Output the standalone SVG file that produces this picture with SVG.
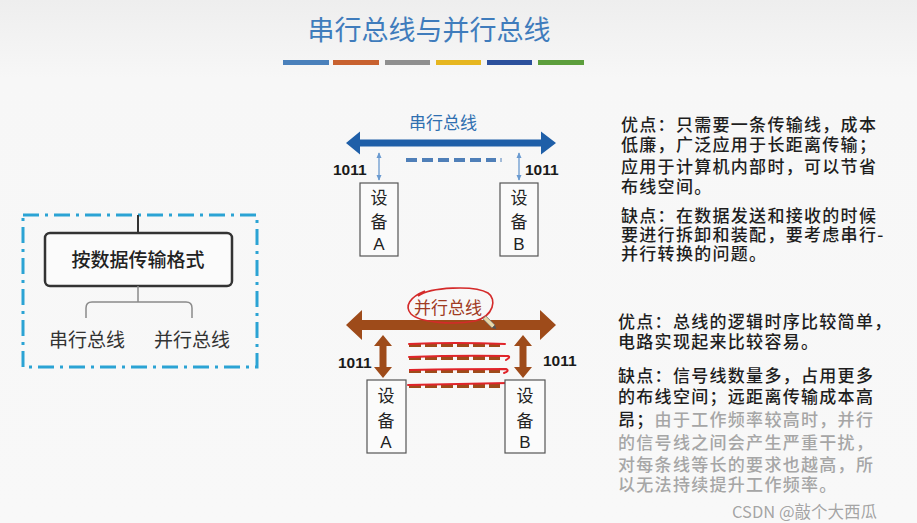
<svg xmlns="http://www.w3.org/2000/svg" width="917" height="523" viewBox="0 0 917 523">
<defs>
<linearGradient id="bg" x1="0" y1="0" x2="0" y2="1">
<stop offset="0" stop-color="#eeeeee"/>
<stop offset="0.15" stop-color="#f7f7f7"/>
<stop offset="1" stop-color="#f8f8f8"/>
</linearGradient>
<marker id="thinHead" viewBox="0 0 8 8" refX="7" refY="4" markerWidth="6" markerHeight="6" orient="auto-start-reverse" markerUnits="userSpaceOnUse">
<path d="M0,0.5 L8,4 L0,7.5 z" fill="#6a9ad0"/>
</marker>
</defs>
<style>
.cjk{font-family:"Noto Sans CJK SC","Noto Sans",sans-serif}
.lat{font-family:"Liberation Sans",Arial,sans-serif}
.body{font-size:17px;fill:#1e1e1e;font-weight:500;letter-spacing:1.3px}
.gray{fill:#a6a6a6}
.dev{fill:#fbfbfb;stroke:#555;stroke-width:1.2}
.devt{font-size:17px;fill:#222;text-anchor:middle}
.num{font-size:15.5px;fill:#1a1a1a;font-weight:bold}
</style>
<rect width="917" height="523" fill="url(#bg)"/>

<g id="title">
<text x="429" y="40" class="cjk" font-size="27" fill="#3f7cbc" text-anchor="middle">串行总线与并行总线</text>
<rect x="283" y="60" width="46" height="5" fill="#4a80bb"/>
<rect x="333" y="60" width="46" height="5" fill="#c8612f"/>
<rect x="385" y="60" width="45" height="5" fill="#8f8f8f"/>
<rect x="436" y="60" width="45" height="5" fill="#e6b620"/>
<rect x="487" y="60" width="45" height="5" fill="#2c509c"/>
<rect x="538" y="60" width="46" height="5" fill="#5c9e3c"/>
</g>

<g id="classify">
<rect x="23" y="215" width="234" height="152" fill="none" stroke="#2ba3d4" stroke-width="3" stroke-dasharray="16,6,3,6"/>
<line x1="138" y1="215" x2="138" y2="233" stroke="#333" stroke-width="2"/>
<rect x="45" y="233" width="187" height="53" rx="5" fill="#fbfbfb" stroke="#333" stroke-width="2.5"/>
<text x="138" y="267" class="cjk" font-size="19" fill="#222" text-anchor="middle" font-weight="500">按数据传输格式</text>
<path d="M138,286 V302 M86,318 V308 Q86,302 92,302 H186 Q192,302 192,308 V318" fill="none" stroke="#8a8a8a" stroke-width="1.5"/>
<text x="87" y="347" class="cjk" font-size="19" fill="#333" text-anchor="middle">串行总线</text>
<text x="192" y="347" class="cjk" font-size="19" fill="#333" text-anchor="middle">并行总线</text>
</g>

<g id="connectors">
<polygon points="346,143 360,131.5 360,139.5 541,139.5 541,131.5 556,143 541,154.5 541,146.5 360,146.5 360,154.5" fill="#1f5fa8"/>
<line x1="379" y1="153" x2="379" y2="180" stroke="#6a9ad0" stroke-width="1.3" marker-start="url(#thinHead)" marker-end="url(#thinHead)"/>
<line x1="519" y1="153" x2="519" y2="180" stroke="#6a9ad0" stroke-width="1.3" marker-start="url(#thinHead)" marker-end="url(#thinHead)"/>
<line x1="406" y1="160" x2="496" y2="160" stroke="#4f7fb8" stroke-width="4" stroke-dasharray="11,5"/>
<line x1="501" y1="158" x2="501" y2="162" stroke="#4f7fb8" stroke-width="1"/>
<polygon points="346,325 362,310 362,320 540,320 540,310 556,325 540,340 540,330 362,330 362,340" fill="#9e4b1a"/>
<polygon points="383,335 392,346 386.5,346 386.5,367 392,367 383,378 374,367 379.5,367 379.5,346 374,346" fill="#9e4b1a"/>
<polygon points="523,335 532,346 526.5,346 526.5,367 532,367 523,378 514,367 519.5,367 519.5,346 514,346" fill="#9e4b1a"/>
<g stroke="#9e4b1a" stroke-width="4" stroke-dasharray="12,4">
<line x1="409" y1="345" x2="500" y2="345"/>
<line x1="409" y1="358" x2="500" y2="358"/>
<line x1="409" y1="371" x2="500" y2="371"/>
<line x1="409" y1="386" x2="500" y2="386"/>
</g>
<g stroke="#e0242a" stroke-width="2" fill="none" stroke-linecap="round">
<path d="M409,344 Q455,342 505,344"/>
<path d="M409,357 Q460,355 508,356 Q511,357 506,360"/>
<path d="M410,370 Q460,369 506,369 Q510,371 504,373"/>
<path d="M408,385 Q460,384 508,383 Q512,383 506,388"/>
</g>
<path d="M418,296 C430,287 475,285 488,293 C497,299 494,316 475,321 C455,325 420,323 411,314 C404,306 410,297 425,291" fill="none" stroke="#d42a2a" stroke-width="1.6"/>
<g transform="translate(490,323) rotate(-45)">
<rect x="-2" y="-8" width="4" height="13" fill="#e8d9a8" stroke="#777" stroke-width="0.8"/>
<path d="M-2,5 L0,9 L2,5 z" fill="#555"/>
</g>
</g>

<g id="serial-label">
<text x="443" y="129" class="cjk" font-size="17" fill="#2f6fb0" text-anchor="middle">串行总线</text>
</g>
<g id="parallel-label">
<text x="448" y="314" class="cjk" font-size="17" fill="#a03a22" text-anchor="middle">并行总线</text>
</g>

<g id="serial-nums">
<text x="333" y="175" class="lat num">1011</text>
<text x="525" y="175" class="lat num">1011</text>
</g>
<g id="serial-devA">
<rect x="360" y="183" width="38" height="73" class="dev"/>
<text x="379" y="204" class="cjk devt">设</text>
<text x="379" y="228" class="cjk devt">备</text>
<text x="379" y="250" class="lat devt">A</text>
</g>
<g id="serial-devB">
<rect x="500" y="183" width="38" height="73" class="dev"/>
<text x="519" y="204" class="cjk devt">设</text>
<text x="519" y="228" class="cjk devt">备</text>
<text x="519" y="250" class="lat devt">B</text>
</g>

<g id="parallel-nums">
<text x="338" y="368" class="lat num">1011</text>
<text x="543" y="366" class="lat num">1011</text>
</g>
<g id="parallel-devA">
<rect x="367" y="380" width="39" height="73" class="dev"/>
<text x="386" y="402" class="cjk devt">设</text>
<text x="386" y="427" class="cjk devt">备</text>
<text x="386" y="448" class="lat devt">A</text>
</g>
<g id="parallel-devB">
<rect x="505" y="380" width="40" height="73" class="dev"/>
<text x="525" y="402" class="cjk devt">设</text>
<text x="525" y="427" class="cjk devt">备</text>
<text x="525" y="448" class="lat devt">B</text>
</g>

<g id="serial-notes" class="cjk body">
<text x="621" y="131">优点：只需要一条传输线，成本</text>
<text x="621" y="151">低廉，广泛应用于长距离传输；</text>
<text x="621" y="173">应用于计算机内部时，可以节省</text>
<text x="621" y="193">布线空间。</text>
<text x="621" y="222">缺点：在数据发送和接收的时候</text>
<text x="621" y="241">要进行拆卸和装配，要考虑串行-</text>
<text x="621" y="260">并行转换的问题。</text>
</g>

<g id="parallel-notes" class="cjk body">
<text x="618" y="328">优点：总线的逻辑时序比较简单，</text>
<text x="618" y="348">电路实现起来比较容易。</text>
<text x="618" y="382">缺点：信号线数量多，占用更多</text>
<text x="618" y="403">的布线空间；远距离传输成本高</text>
<text x="618" y="426">昂；<tspan class="gray">由于工作频率较高时，并行</tspan></text>
<text x="618" y="449" class="gray">的信号线之间会产生严重干扰，</text>
<text x="618" y="471" class="gray">对每条线等长的要求也越高，所</text>
<text x="618" y="491" class="gray">以无法持续提升工作频率。</text>
</g>

<g id="watermark">
<text x="732" y="518" class="cjk" font-size="16.5" fill="#9a9a9a" fill-opacity="0.9">CSDN @敲个大西瓜</text>
</g>
</svg>
